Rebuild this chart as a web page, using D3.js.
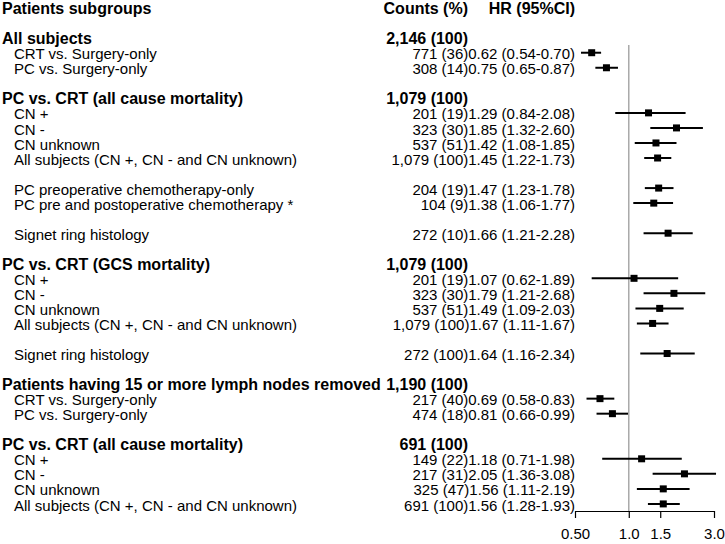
<!DOCTYPE html>
<html>
<head>
<meta charset="utf-8"/>
<title>Forest plot</title>
<script src="https://d3js.org/d3.v7.min.js"></script>
<style>
  body { margin: 0; background: white; }
  text { font-family: "Liberation Sans", Arial, sans-serif; fill: black; }
  .bold { font-weight: bold; font-size: 16px; }
  .norm { font-size: 15px; }
</style>
</head>
<body>
<svg id="chart" width="725" height="544"></svg>
<script>

// one entry per row of the table, "" = empty row
var labels = ["Patients subgroups", "",
  "All subjects", "CRT vs. Surgery-only", "PC vs. Surgery-only", "",
  "PC vs. CRT (all cause mortality)", "CN +", "CN -", "CN unknown", "All subjects (CN +, CN - and CN unknown)", "",
  "PC preoperative chemotherapy-only", "PC pre and postoperative chemotherapy *", "",
  "Signet ring histology", "",
  "PC vs. CRT (GCS mortality)", "CN +", "CN -", "CN unknown", "All subjects (CN +, CN - and CN unknown)", "",
  "Signet ring histology", "",
  "Patients having 15 or more lymph nodes removed", "CRT vs. Surgery-only", "PC vs. Surgery-only", "",
  "PC vs. CRT (all cause mortality)", "CN +", "CN -", "CN unknown", "All subjects (CN +, CN - and CN unknown)"]

var counts = ["Counts (%)", "",
  "2,146 (100)", "771 (36)", "308 (14)", "",
  "1,079 (100)", "201 (19)", "323 (30)", "537 (51)", "1,079 (100)", "",
  "204 (19)", "104 (9)", "",
  "272 (10)", "",
  "1,079 (100)", "201 (19)", "323 (30)", "537 (51)", "1,079 (100)", "",
  "272 (100)", "",
  "1,190 (100)", "217 (40)", "474 (18)", "",
  "691 (100)", "149 (22)", "217 (31)", "325 (47)", "691 (100)"]

var hrText = ["HR (95%CI)", "",
  "", "0.62 (0.54-0.70)", "0.75 (0.65-0.87)", "",
  "", "1.29 (0.84-2.08)", "1.85 (1.32-2.60)", "1.42 (1.08-1.85)", "1.45 (1.22-1.73)", "",
  "1.47 (1.23-1.78)", "1.38 (1.06-1.77)", "",
  "1.66 (1.21-2.28)", "",
  "", "1.07 (0.62-1.89)", "1.79 (1.21-2.68)", "1.49 (1.09-2.03)", "1.67 (1.11-1.67)", "",
  "1.64 (1.16-2.34)", "",
  "", "0.69 (0.58-0.83)", "0.81 (0.66-0.99)", "",
  "", "1.18 (0.71-1.98)", "2.05 (1.36-3.08)", "1.56 (1.11-2.19)", "1.56 (1.28-1.93)"]

// plotted estimates (as drawn in the picture)
var hr = [null, null, null, 0.62, 0.75, null, null, 1.29, 1.85, 1.42, 1.45, null, 1.47, 1.38, null, 1.66, null,
  null, 1.07, 1.79, 1.49, 1.36, null, 1.64, null, null, 0.69, 0.81, null, null, 1.18, 2.05, 1.56, 1.56]
var lo = [null, null, null, 0.54, 0.65, null, null, 0.84, 1.32, 1.08, 1.22, null, 1.23, 1.06, null, 1.21, null,
  null, 0.62, 1.21, 1.09, 1.11, null, 1.16, null, null, 0.58, 0.66, null, null, 0.71, 1.36, 1.11, 1.28]
var hi = [null, null, null, 0.70, 0.87, null, null, 2.08, 2.60, 1.85, 1.73, null, 1.78, 1.77, null, 2.28, null,
  null, 1.89, 2.68, 2.03, 1.67, null, 2.34, null, null, 0.83, 0.99, null, null, 1.98, 3.08, 2.19, 1.93]

var headingRows = [0, 2, 6, 17, 25, 29]

var ticks = [0.5, 1, 1.5, 3]
var tickLabels = ["0.50", "1.0", "1.5", "3.0"]

var svg = d3.select("#chart")

var x = d3.scaleLog([0.5, 3], [575, 714])
var y = d3.scaleLinear([0, 33], [7.6, 7.6 + 15.04 * 33])
var axisY = 511

var rows = d3.range(labels.length)

// reference line at HR = 1
svg.append("line")
  .attr("x1", x(1)).attr("x2", x(1))
  .attr("y1", 45).attr("y2", axisY)
  .attr("stroke", "#a9a9a9")
  .attr("stroke-width", 1.5)

// left column
svg.selectAll(".lab")
  .data(rows.filter(i => labels[i] != ""))
  .enter().append("text")
  .attr("class", i => headingRows.includes(i) ? "lab bold" : "lab norm")
  .attr("x", i => headingRows.includes(i) ? 2 : 14)
  .attr("y", i => y(i) + 6.6)
  .text(i => labels[i])

// heading counts
svg.selectAll(".cnt")
  .data(headingRows)
  .enter().append("text")
  .attr("class", "cnt bold")
  .attr("text-anchor", "end")
  .attr("x", 468)
  .attr("y", i => y(i) + 6.6)
  .text(i => counts[i])

svg.append("text")
  .attr("class", "bold")
  .attr("text-anchor", "end")
  .attr("x", 575)
  .attr("y", y(0) + 6.6)
  .text(hrText[0])

// counts + HR text for the sub rows
svg.selectAll(".hrt")
  .data(rows.filter(i => hr[i] != null))
  .enter().append("text")
  .attr("class", "hrt norm")
  .attr("text-anchor", "end")
  .attr("x", 575)
  .attr("y", i => y(i) + 6.6)
  .text(i => counts[i] + hrText[i])

var est = rows.filter(i => hr[i] != null)

svg.selectAll(".ci")
  .data(est)
  .enter().append("line")
  .attr("x1", i => x(lo[i])).attr("x2", i => x(hi[i]))
  .attr("y1", i => y(i)).attr("y2", i => y(i))
  .attr("stroke", "black")
  .attr("stroke-width", 2)

svg.selectAll(".pt")
  .data(est)
  .enter().append("rect")
  .attr("x", i => x(hr[i]) - 3.5)
  .attr("y", i => y(i) - 3.5)
  .attr("width", 7).attr("height", 7)
  .attr("fill", "black")

// axis
var ax = svg.append("g")
  .attr("transform", "translate(0," + axisY + ")")
  .call(d3.axisBottom(x)
    .tickValues(ticks)
    .tickFormat((d, i) => tickLabels[i])
    .tickSize(7)
    .tickSizeOuter(0))
ax.selectAll("text")
  .attr("font-size", 15)
  .attr("font-family", "Liberation Sans, Arial, sans-serif")
  .attr("dy", 0)
  .attr("y", 28)
ax.selectAll("line, path").attr("stroke", "black").attr("stroke-width", 1.2)

</script>
</body>
</html>
